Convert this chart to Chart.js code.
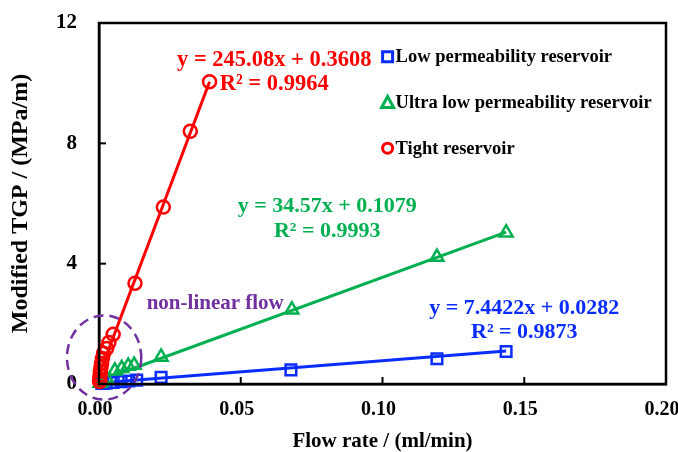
<!DOCTYPE html>
<html>
<head>
<meta charset="utf-8">
<script src="https://cdn.jsdelivr.net/npm/chart.js@4.4.1/dist/chart.umd.min.js"></script>
<style>
  html, body { margin: 0; padding: 0; background: #fff; }
  #wrap { width: 678px; height: 452px; }
</style>
</head>
<body>
<div id="wrap"><canvas id="tgpChart"></canvas></div>
<script>
// values
const lowX = [0.1436, 0.1192, 0.0677, 0.0219, 0.0133, 0.0105, 0.0078, 0.0050, 0.0025, 0.0010];
const lowY = [1.08, 0.84, 0.47, 0.22, 0.13, 0.10, 0.08, 0.05, 0.03, 0.02];
const ultraX = [0.1436, 0.1192, 0.0680, 0.0219, 0.0124, 0.0103, 0.0080, 0.0056, 0.0025, 0.0010, 0.0004];
const ultraY = [5.03, 4.22, 2.47, 0.90, 0.63, 0.60, 0.52, 0.44, 0.20, 0.10, 0.03];
const tightX = [0.0390, 0.0322, 0.0227, 0.0127, 0.0050, 0.0035, 0.0027, 0.0016, 0.0012, 0.0009, 0.0007, 0.0005, 0.0004, 0.0003, 0.0002];
const tightY = [10.05, 8.40, 5.88, 3.35, 1.65, 1.38, 1.18, 1.02, 0.85, 0.68, 0.55, 0.42, 0.30, 0.18, 0.08];

// trend lines (end points)
const lowFitX = [0, 0.1436];
const lowFitY = [0.03, 1.10];
const ultraFitX = [0, 0.1436];
const ultraFitY = [0.10, 5.05];
const tightFitX = [0, 0.0390];
const tightFitY = [0.30, 10.05];

const xTicks = [0, 0.05, 0.10, 0.15, 0.20];
const yTicks = [0, 4, 8, 12];

const seriesNames = ['Low permeability reservoir', 'Ultra low permeability reservoir', 'Tight reservoir'];
const equations = [
  ['y = 7.4422x + 0.0282', 'R\u00b2 = 0.9873'],
  ['y = 34.57x + 0.1079', 'R\u00b2 = 0.9993'],
  ['y = 245.08x + 0.3608', 'R\u00b2 = 0.9964']
];

const BLUE = '#0A2DFF', GREEN = '#00B050', RED = '#FF0000', PURPLE = '#7030A0';
const FONT = "'Liberation Serif', 'Times New Roman', serif";

const pts = (xs, ys) => xs.map((x, i) => ({ x: x, y: ys[i] }));

// labels placed in data units
const eqPos = [
  { x: 0.150, y: [2.53, 1.73], color: BLUE },
  { x: 0.0805, y: [5.90, 5.07], color: GREEN },
  { x: 0.0618, y: [10.78, 9.98], color: RED }
];

const extras = {
  id: 'extras',
  afterDraw(chart) {
    const { ctx, chartArea: a, scales: { x, y } } = chart;
    ctx.save();
    // frame
    ctx.strokeStyle = '#000';
    ctx.lineWidth = 2.5;
    ctx.strokeRect(a.left, a.top, a.right - a.left, a.bottom - a.top);
    // inside tick marks
    ctx.lineWidth = 2;
    xTicks.forEach(v => {
      const px = x.getPixelForValue(v);
      ctx.beginPath(); ctx.moveTo(px, a.bottom); ctx.lineTo(px, a.bottom - 7); ctx.stroke();
    });
    yTicks.forEach(v => {
      const py = y.getPixelForValue(v);
      ctx.beginPath(); ctx.moveTo(a.left, py); ctx.lineTo(a.left + 7, py); ctx.stroke();
    });

    // dashed ellipse around the non-linear part
    const cx = x.getPixelForValue(0.0018), cy = y.getPixelForValue(0.88);
    const rx = x.getPixelForValue(0.0131) - x.getPixelForValue(0);
    const ry = y.getPixelForValue(0) - y.getPixelForValue(1.40);
    ctx.strokeStyle = PURPLE;
    ctx.lineWidth = 2.5;
    ctx.setLineDash([10, 6]);
    ctx.beginPath(); ctx.ellipse(cx, cy, rx, ry, 0, 0, Math.PI * 2); ctx.stroke();
    ctx.setLineDash([]);

    ctx.textAlign = 'center';
    ctx.textBaseline = 'middle';
    ctx.font = 'bold 21px ' + FONT;
    ctx.fillStyle = PURPLE;
    ctx.fillText('non-linear flow', x.getPixelForValue(0.041), y.getPixelForValue(2.66));

    // equations
    eqPos.forEach((p, i) => {
      ctx.font = (i === 2 ? 'bold 22.5px ' : 'bold 22px ') + FONT;
      ctx.fillStyle = p.color;
      ctx.fillText(equations[i][0], x.getPixelForValue(p.x), y.getPixelForValue(p.y[0]));
      ctx.fillText(equations[i][1], x.getPixelForValue(p.x), y.getPixelForValue(p.y[1]));
    });

    // legend
    const lx = x.getPixelForValue(0.1018);
    const rows = [10.88, 9.36, 7.84];
    const cols = [BLUE, GREEN, RED];
    ctx.font = 'bold 18.5px ' + FONT;
    ctx.textAlign = 'left';
    ctx.lineWidth = 3;
    rows.forEach((r, i) => {
      const ly = y.getPixelForValue(r);
      ctx.strokeStyle = cols[i];
      ctx.beginPath();
      if (i === 0) ctx.rect(lx - 5, ly - 5, 10, 10);
      else if (i === 1) { ctx.moveTo(lx, ly - 6); ctx.lineTo(lx + 6, ly + 5); ctx.lineTo(lx - 6, ly + 5); ctx.closePath(); }
      else ctx.arc(lx, ly, 5, 0, Math.PI * 2);
      ctx.stroke();
      ctx.fillStyle = '#000';
      ctx.fillText(seriesNames[i], lx + 8, ly + 1);
    });
    ctx.restore();
  }
};

const lineSet = (xs, ys, color) => ({
  data: pts(xs, ys), showLine: true, borderColor: color, borderWidth: 3,
  pointRadius: 0, order: 10, clip: false
});
const pointSet = (label, xs, ys, color, style, r, ord) => ({
  label: label, data: pts(xs, ys), showLine: false, pointStyle: style,
  pointRadius: r, pointBorderWidth: 2.5, pointBorderColor: color,
  pointBackgroundColor: 'rgba(255,255,255,0)', order: ord, clip: false
});

new Chart(document.getElementById('tgpChart'), {
  type: 'scatter',
  data: {
    datasets: [
      lineSet(lowFitX, lowFitY, BLUE),
      lineSet(ultraFitX, ultraFitY, GREEN),
      lineSet(tightFitX, tightFitY, RED),
      pointSet(seriesNames[0], lowX, lowY, BLUE, 'rect', 7.5, 3),
      pointSet(seriesNames[1], ultraX, ultraY, GREEN, 'triangle', 7.5, 2),
      pointSet(seriesNames[2], tightX, tightY, RED, 'circle', 6.5, 1)
    ]
  },
  options: {
    responsive: true,
    maintainAspectRatio: false,
    animation: false,
    layout: { padding: { left: 0, right: 12, top: 23, bottom: 0 } },
    plugins: { legend: { display: false }, tooltip: { enabled: false } },
    scales: {
      x: {
        type: 'linear', min: 0, max: 0.2,
        afterBuildTicks: s => { s.ticks = xTicks.map(v => ({ value: v })); },
        afterFit: s => { s.height = 68; s.paddingLeft = 0; s.paddingRight = 0; },
        grid: { drawOnChartArea: false, drawTicks: false },
        border: { display: true, color: '#000', width: 2.5 },
        ticks: {
          padding: 14, color: '#000', maxRotation: 0, labelOffset: -4,
          font: { family: FONT, size: 20, weight: 'bold' },
          callback: v => v.toFixed(2)
        },
        title: {
          display: true, text: 'Flow rate / (ml/min)', color: '#000',
          font: { family: FONT, size: 21, weight: 'bold', lineHeight: 1 },
          padding: { top: 0, bottom: 0 }
        }
      },
      y: {
        type: 'linear', min: 0, max: 12,
        afterBuildTicks: s => { s.ticks = yTicks.map(v => ({ value: v })); },
        afterFit: s => { s.width = 99; s.paddingTop = 0; s.paddingBottom = 0; },
        grid: { drawOnChartArea: false, drawTicks: false },
        border: { display: true, color: '#000', width: 2.5 },
        ticks: {
          padding: 22, color: '#000',
          font: { family: FONT, size: 21, weight: 'bold' }
        },
        title: {
          display: true, text: 'Modified TGP / (MPa/m)', color: '#000',
          font: { family: FONT, size: 24, weight: 'bold', lineHeight: 1 },
          padding: { top: 9, bottom: 0 }
        }
      }
    }
  },
  plugins: [extras]
});
</script>
</body>
</html>
